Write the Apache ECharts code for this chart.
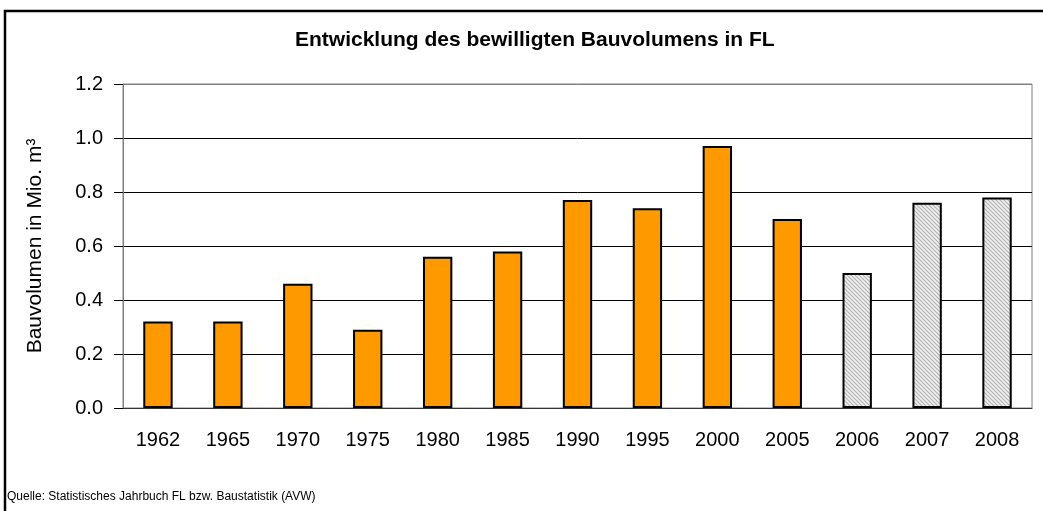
<!DOCTYPE html>
<html>
<head>
<meta charset="utf-8">
<script src="https://cdn.jsdelivr.net/npm/echarts@6/dist/echarts.min.js"></script>
<style>
  html, body { margin: 0; padding: 0; background: #fff; }
  #chart { width: 1043px; height: 511px; }
</style>
</head>
<body>
<div id="chart"></div>
<script>
// Daten
const years = ['1962', '1965', '1970', '1975', '1980', '1985', '1990', '1995', '2000', '2005', '2006', '2007', '2008'];
const volumes = [0.32, 0.32, 0.46, 0.29, 0.56, 0.58, 0.77, 0.74, 0.97, 0.70, 0.50, 0.76, 0.78];
const hatchedYears = ['2006', '2007', '2008'];
const yTicks = { min: 0, max: 1.2, interval: 0.2 };

// Schraffur fuer die letzten Jahre
function makeHatch() {
  const c = document.createElement('canvas');
  c.width = 4; c.height = 4;
  const ctx = c.getContext('2d');
  ctx.fillStyle = '#efefef';
  ctx.fillRect(0, 0, 4, 4);
  ctx.strokeStyle = '#b4b4b4';
  ctx.lineWidth = 1.2;
  ctx.beginPath();
  ctx.moveTo(-1, -1); ctx.lineTo(5, 5);
  ctx.moveTo(-5, -1); ctx.lineTo(1, 5);
  ctx.moveTo(3, -1); ctx.lineTo(9, 5);
  ctx.stroke();
  return c;
}

const hatch = makeHatch();
const font = 'Liberation Sans, Arial, sans-serif';

const chart = echarts.init(document.getElementById('chart'));

const option = {
  animation: false,
  backgroundColor: '#fff',
  title: {
    text: 'Entwicklung des bewilligten Bauvolumens in FL',
    left: 290,
    top: 25,
    textStyle: { fontFamily: font, fontSize: 21, fontWeight: 'bold', color: '#000' }
  },
  grid: {
    left: 123, right: 11, top: 84, bottom: 103,
    show: true, borderColor: '#808080', borderWidth: 1
  },
  xAxis: {
    type: 'category',
    data: years,
    axisLine: { lineStyle: { color: '#333', width: 1 } },
    axisTick: { length: 9, lineStyle: { color: '#000' } },
    axisLabel: { fontFamily: font, fontSize: 20, color: '#000', margin: 22 }
  },
  yAxis: {
    type: 'value',
    min: yTicks.min, max: yTicks.max, interval: yTicks.interval,
    name: 'Bauvolumen in Mio. m³',
    nameLocation: 'middle',
    nameGap: 77,
    nameTextStyle: { fontFamily: font, fontSize: 21, color: '#000' },
    axisLine: { show: true, lineStyle: { color: '#808080' } },
    axisTick: { show: true, length: 9, lineStyle: { color: '#000' } },
    axisLabel: {
      fontFamily: font, fontSize: 20, color: '#000', margin: 20,
      formatter: v => v.toFixed(1)
    },
    splitLine: {
      lineStyle: { color: ['#000', '#000', '#000', '#000', '#000', '#000', '#808080'], width: 1 }
    }
  },
  series: [{
    type: 'bar',
    barWidth: '42%',
    data: volumes.map((v, i) => ({
      value: v,
      itemStyle: hatchedYears.includes(years[i])
        ? { color: { image: hatch, repetition: 'repeat' } }
        : { color: '#FF9900' }
    })),
    itemStyle: { borderColor: '#000', borderWidth: 2 }
  }],
  graphic: [
    {
      type: 'rect',
      shape: { x: 5, y: 11, width: 1060, height: 520 },
      style: { fill: null, stroke: '#000', lineWidth: 2.5 },
      silent: true
    },
    {
      type: 'text',
      left: 7, top: 491,
      style: {
        text: 'Quelle: Statistisches Jahrbuch FL bzw. Baustatistik (AVW)',
        fontFamily: font, fontSize: 12, fill: '#000'
      }
    }
  ]
};

chart.setOption(option);
</script>
</body>
</html>
